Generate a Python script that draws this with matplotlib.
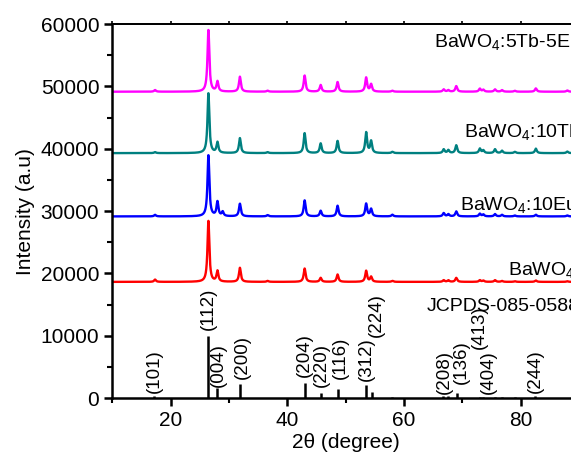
import numpy as np
import matplotlib
matplotlib.use('Agg')
import matplotlib.pyplot as plt
from matplotlib.ticker import MultipleLocator

plt.rcParams['font.family'] = ['Liberation Sans', 'DejaVu Sans']
plt.rcParams['mathtext.fontset'] = 'custom'
plt.rcParams['mathtext.rm'] = 'Liberation Sans'
plt.rcParams['mathtext.it'] = 'Liberation Sans:italic'

# peak positions (2theta)
peak_pos = [17.3, 26.45, 28.0, 28.9, 31.85, 36.6, 42.95, 45.7, 48.6, 53.5, 54.35,
            58.0, 66.8, 67.6, 68.95, 73.0, 73.6, 75.6, 76.8, 79.0, 82.6, 88.0]

# peak heights above baseline for each sample
h_5tb5eu = [270, 9900, 1600, 0, 2400, 160, 2600, 1070, 1550, 2250, 1180,
            160, 370, 250, 900, 480, 300, 370, 250, 150, 530, 200]
h_10tb = [160, 9600, 1700, 0, 2400, 150, 3200, 1550, 1950, 3300, 1900,
          200, 600, 480, 1250, 720, 430, 620, 380, 200, 720, 250]
h_10eu = [250, 9800, 2300, 690, 2030, 200, 2570, 900, 1710, 2030, 1180,
          270, 530, 350, 800, 430, 300, 370, 250, 150, 270, 150]
h_pure = [370, 9780, 1710, 0, 2250, 150, 2140, 640, 1180, 1770, 800,
          160, 270, 250, 640, 270, 200, 270, 150, 100, 220, 100]

baselines = [49150, 39300, 29150, 18650]
colors = ['#FF00FF', '#008080', '#0000FF', '#FF0000']

# JCPDS 085-0588 reference sticks
ref_pos = [17.2, 26.45, 28.0, 31.83, 42.97, 45.72, 48.63, 53.53, 54.51, 57.99,
           66.73, 67.59, 69.03, 73.03, 73.59, 75.6, 76.75, 79.03, 82.46]
ref_int = [400, 10000, 1600, 2200, 2430, 870, 1460, 2100, 1030, 160,
           270, 380, 860, 250, 250, 250, 250, 200, 300]

hkl = ['(101)', '(112)', '(004)', '(200)', '(204)', '(220)', '(116)', '(312)', '(224)',
       '(208)', '(136)', '(413)', '(404)', '(244)']
hkl_x = [17.2, 26.45, 28.2, 32.2, 42.9, 45.8, 49.0, 53.6, 55.3, 67.0, 69.9, 73.0, 74.45, 82.46]
hkl_y = [900, 10900, 1850, 3050, 3350, 1850, 3050, 2800, 9850, 650, 2250, 7900, 650, 900]


def pattern(x, heights, base, hw=0.19):
    y = np.full_like(x, float(base))
    for p, h in zip(peak_pos, heights):
        y += h / (1 + ((x - p) / hw) ** 2)
    return y


x = np.linspace(10, 90, 4001)

fig = plt.figure(figsize=(5.71, 4.54), dpi=100)
ax = fig.add_axes([0.197, 0.123, 0.817, 0.824])

for heights, base, c in zip([h_5tb5eu, h_10tb, h_10eu, h_pure], baselines, colors):
    ax.plot(x, pattern(x, heights, base), color=c, lw=1.7)

ax.vlines(ref_pos, 0, ref_int, color='black', lw=1.8)
for lab, lx, ly in zip(hkl, hkl_x, hkl_y):
    ax.text(lx, ly, lab, rotation=90, ha='center', va='bottom', fontsize=13.5)

sub4 = 'BaWO$_\\mathregular{4}$'
ax.text(65.1, 57100, sub4 + ':5Tb-5Eu', fontsize=14, va='center')
ax.text(70.2, 42700, sub4 + ':10Tb', fontsize=14, va='center')
ax.text(69.6, 31000, sub4 + ':10Eu', fontsize=14, va='center')
ax.text(77.8, 20500, sub4, fontsize=14, va='center')
ax.text(63.9, 14650, 'JCPDS-085-0588', fontsize=14, va='center')

ax.set_xlim(10, 90)
ax.set_ylim(0, 60000)
ax.xaxis.set_major_locator(MultipleLocator(20))
ax.xaxis.set_minor_locator(MultipleLocator(10))
ax.yaxis.set_major_locator(MultipleLocator(10000))
ax.yaxis.set_minor_locator(MultipleLocator(5000))
ax.tick_params(which='major', direction='out', length=6, width=1.8, labelsize=15)
ax.tick_params(which='minor', direction='out', length=3.5, width=1.5)
for s in ['left', 'bottom']:
    ax.spines[s].set_linewidth(1.8)
ax.spines['top'].set_linewidth(1.3)
ax.spines['right'].set_visible(False)

# short ticks along the top edge
top = ax.secondary_xaxis('top')
top.xaxis.set_major_locator(MultipleLocator(10))
top.tick_params(direction='out', length=2, width=1.2, labeltop=False)
top.spines['top'].set_linewidth(1.3)

ax.set_xlabel('2θ (degree)', fontsize=15, labelpad=2)
ax.set_ylabel('Intensity (a.u)', fontsize=15, labelpad=4)

fig.savefig('out.png', dpi=100)
